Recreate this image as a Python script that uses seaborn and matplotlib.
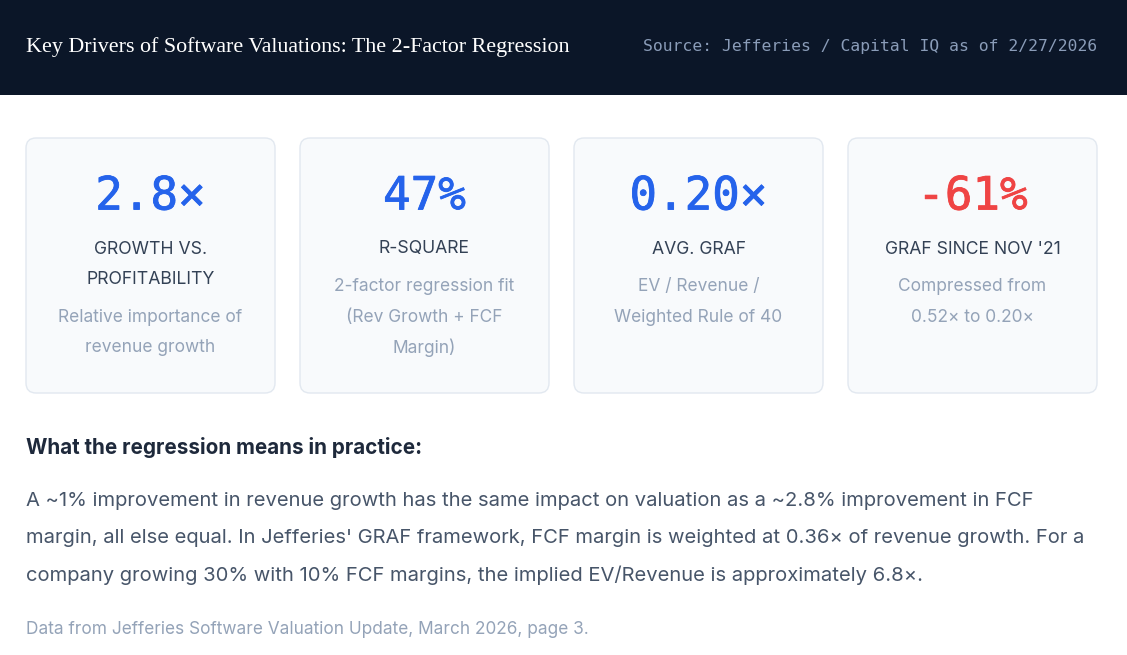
import matplotlib
matplotlib.use("Agg")
import matplotlib.pyplot as plt
from matplotlib.patches import Rectangle, FancyBboxPatch
import matplotlib.patheffects as pe
import seaborn as sns

# ---------------- data ----------------
title = "Key Drivers of Software Valuations: The 2-Factor Regression"
source = "Source: Jefferies / Capital IQ as of 2/27/2026"

metric_values = ["2.8×", "47%", "0.20×", "-61%"]
metric_labels = [["GROWTH VS.", "PROFITABILITY"], ["R-SQUARE"], ["AVG. GRAF"], ["GRAF SINCE NOV '21"]]
metric_desc = [
    ["Relative importance of", "revenue growth"],
    ["2-factor regression fit", "(Rev Growth + FCF", "Margin)"],
    ["EV / Revenue /", "Weighted Rule of 40"],
    ["Compressed from", "0.52× to 0.20×"],
]
metric_colors = ["#2563eb", "#2563eb", "#2563eb", "#ef4444"]

section_heading = "What the regression means in practice:"
paragraph_lines = [
    "A ~1% improvement in revenue growth has the same impact on valuation as a ~2.8% improvement in FCF",
    "margin, all else equal. In Jefferies' GRAF framework, FCF margin is weighted at 0.36× of revenue growth. For a",
    "company growing 30% with 10% FCF margins, the implied EV/Revenue is approximately 6.8×.",
]
footnote = "Data from Jefferies Software Valuation Update, March 2026, page 3."

# ---------------- style ----------------
sns.set_theme(style="white")
plt.rcParams["font.family"] = ["Inter", "DejaVu Sans"]

W, H = 1127, 655
fig = plt.figure(figsize=(W / 100, H / 100), dpi=100)
fig.patch.set_facecolor("white")
ax = fig.add_axes([0, 0, 1, 1])
ax.set_xlim(0, W)
ax.set_ylim(H, 0)
ax.axis("off")
fig.canvas.draw()
renderer = fig.canvas.get_renderer()


def fit_text(t, target_w):
    bb = t.get_window_extent(renderer=renderer)
    if bb.width > 0:
        t.set_fontsize(t.get_fontsize() * target_w / bb.width)


# header
ax.add_patch(Rectangle((0, 0), W, 95, facecolor="#0b1628", edgecolor="none", zorder=0))
t = ax.text(26, 47, title, color="white", fontsize=17, family=["Liberation Serif", "DejaVu Serif"],
            ha="left", va="center")
fit_text(t, 543)
t = ax.text(1097, 47, source, color="#8a9cb8", fontsize=13, family=["DejaVu Sans Mono"],
            ha="right", va="center")
fit_text(t, 455)

# cards
card_x = [26, 300, 574, 848]
card_w, card_y, card_h, r = 249, 138, 255, 10
for i in range(4):
    x0 = card_x[i]
    ax.add_patch(FancyBboxPatch((x0 + r, card_y + r), card_w - 2 * r, card_h - 2 * r,
                                boxstyle=f"round,pad={r}", facecolor="#f8fafc",
                                edgecolor="#e2e8f0", linewidth=1.0, zorder=1))
    cx = x0 + card_w / 2
    ax.text(cx, 197, metric_values[i], color=metric_colors[i], fontsize=33,
            family=["DejaVu Sans Mono"], ha="center", va="center", zorder=2,
            path_effects=[pe.withStroke(linewidth=0.6, foreground=metric_colors[i])])
    y = 249
    for j, lab in enumerate(metric_labels[i]):
        y = 249 + 31 * j
        ax.text(cx, y, lab, color="#334155", fontsize=12.7, ha="center", va="center", zorder=2)
    y += 37.5
    for j, d in enumerate(metric_desc[i]):
        ax.text(cx, y + 30.5 * j, d, color="#94a3b8", fontsize=12.5, ha="center", va="center", zorder=2)

# text section
t = ax.text(26, 447, section_heading, color="#1e293b", fontsize=13, fontweight="bold",
            ha="left", va="center")
fit_text(t, 396)
for k, line in enumerate(paragraph_lines):
    t = ax.text(26, 501 + 37 * k, line, color="#475569", fontsize=14, ha="left", va="center")
    if k == 0:
        fit_text(t, 1010)
        psize = t.get_fontsize()
    else:
        t.set_fontsize(psize)
t = ax.text(26, 630, footnote, color="#94a3b8", fontsize=12, ha="left", va="center")
fit_text(t, 563)

fig.savefig("out.png", dpi=100, facecolor="white")
